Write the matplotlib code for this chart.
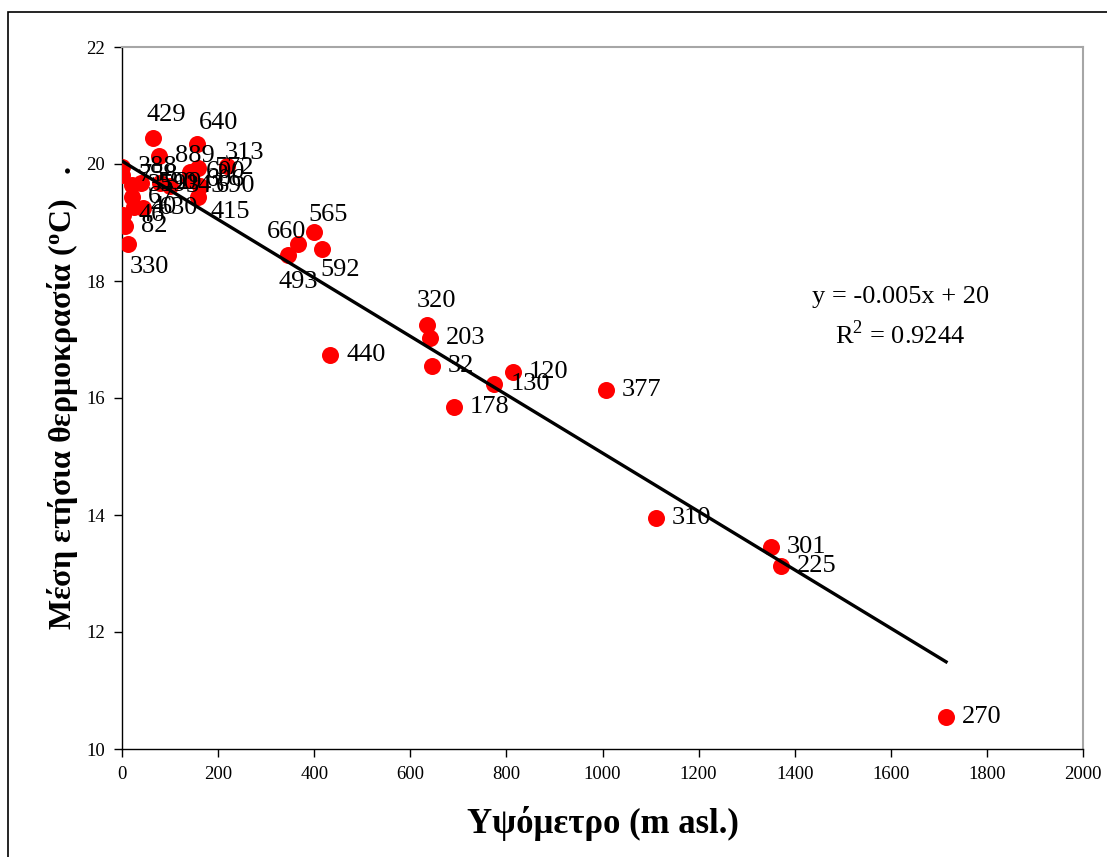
import matplotlib
matplotlib.use("Agg")
import matplotlib.pyplot as plt
import numpy as np
from matplotlib.patches import Rectangle

plt.rcParams['font.family'] = ['Liberation Serif', 'DejaVu Serif']
plt.rcParams['mathtext.fontset'] = 'custom'
plt.rcParams['mathtext.rm'] = 'Liberation Serif'
plt.rcParams['mathtext.bf'] = 'Liberation Serif:bold'

# Station data: altitude (m asl), mean annual temperature (°C), station labels
altitude = [65, 157, 77, 0, 0, 20, 40, 21, 25, 44, 2, 6, 12,
            159, 218, 141, 159, 79, 100, 162, 141,
            367, 400, 346, 416,
            634, 640, 645, 690, 775, 814, 433,
            1007, 1111, 1351, 1372, 1715]
temperature = [20.44, 20.34, 20.14, 19.95, 19.81, 19.64, 19.68, 19.44, 19.26, 19.24, 19.13, 18.94, 18.63,
               19.93, 19.96, 19.86, 19.44, 19.68, 19.62, 19.62, 19.73,
               18.63, 18.84, 18.44, 18.54,
               17.25, 17.03, 16.55, 15.84, 16.24, 16.45, 16.74,
               16.14, 13.95, 13.45, 13.13, 10.55]
station = ['429', '640', '889', '388', '758', '359', '590', '67', '40', '630', '46', '82', '330',
           '572', '313', '600', '415', '29', '343', '690', '606',
           '660', '565', '493', '592',
           '320', '203', '32', '178', '130', '120', '440',
           '377', '310', '301', '225', '270']

x_ticks = [0, 200, 400, 600, 800, 1000, 1200, 1400, 1600, 1800, 2000]
y_ticks = [10, 12, 14, 16, 18, 20, 22]

# label placement offsets in pixels (dx, dy downwards), centred labels
special = {'429': (13, -23), '640': (21, -21), '330': (22, 23), '313': (18, -13),
           '415': (32, 15), '660': (-12, -12), '565': (14, -17), '493': (10, 27),
           '592': (18, 21), '320': (10, -24)}

W, H = 1107, 857
fig = plt.figure(figsize=(W / 100, H / 100), dpi=100)
fig.patches.append(Rectangle((8 / W, -0.1), 1.2, 1 - 12 / H + 0.1, transform=fig.transFigure,
                             fill=False, edgecolor='black', linewidth=1.2))
ax = fig.add_axes([122 / W, 1 - 749 / H, (1083 - 122) / W, (749 - 47) / H])

ax.set_xlim(0, 2000)
ax.set_ylim(10, 22)
ax.set_xticks(x_ticks)
ax.set_yticks(y_ticks)
ax.tick_params(direction='out', length=6, width=1, labelsize=13.5, pad=6)
for s in ['left', 'bottom']:
    ax.spines[s].set_color('black')
    ax.spines[s].set_linewidth(1)
for s in ['top', 'right']:
    ax.spines[s].set_color('#a6a6a6')
    ax.spines[s].set_linewidth(1.5)

xs = np.array(altitude, float)
ys = np.array(temperature, float)
ax.scatter(xs, ys, s=150, color='#ff0000', zorder=3, linewidths=0)

coef = np.polyfit(xs, ys, 1)
xl = np.array([xs.min(), xs.max()])
ax.plot(xl, np.polyval(coef, xl), color='black', lw=2.4, zorder=4)

for x, y, lab in zip(xs, ys, station):
    if lab in special:
        dx, dy = special[lab]
        ax.annotate(lab, (x, y), xytext=(dx * 0.72, -dy * 0.72), textcoords='offset points',
                    ha='center', va='center', fontsize=19, zorder=5)
    else:
        ax.annotate(lab, (x, y), xytext=(16 * 0.72, 0), textcoords='offset points',
                    ha='left', va='center', fontsize=19, zorder=5)

ax.text(0.81, 0.644, 'y = -0.005x + 20', transform=ax.transAxes, ha='center', va='center', fontsize=19)
ax.text(0.81, 0.590, r'R$^{2}$ = 0.9244', transform=ax.transAxes, ha='center', va='center', fontsize=19)

ax.set_xlabel('Υψόμετρο (m asl.)', fontsize=25, fontweight='bold', labelpad=17)
ax.set_ylabel(r'Μέση ετήσια θερμοκρασία ($\mathbf{^{o}}$C)   .', fontsize=23,
              fontweight='bold', labelpad=5)

fig.savefig('out.png', dpi=100)
